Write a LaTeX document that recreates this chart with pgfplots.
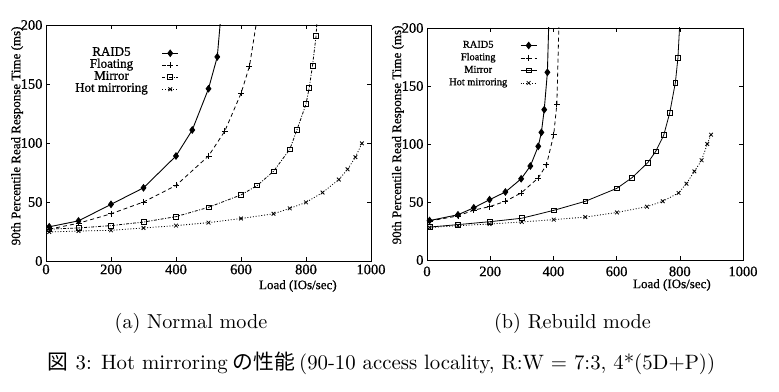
\documentclass[border=0pt]{standalone}
\usepackage{fontspec}
\usepackage{pgfplots}
\pgfplotsset{compat=1.18}
\newfontfamily\tms{Liberation Serif}[FakeBold=0.8]
\newfontfamily\cjk{Noto Sans CJK JP}
\newfontfamily\cmten{lmroman10-regular}[Extension=.otf]
\pgfplotsset{
  legend image code/.code={\draw[mark repeat=2,mark phase=2] plot coordinates {(0pt,0pt) (8pt,0pt) (16pt,0pt)};},
  myax/.style={
    scale only axis,
    xmin=0, xmax=1000, ymin=0, ymax=200,
    xtick={0,200,...,1000}, ytick={0,50,...,200},
    tick align=inside, major tick length=4pt,
    axis line style={line width=0.8pt},
    tick style={line width=0.6pt, black},
    /pgf/number format/assume math mode=true,
    /pgf/number format/1000 sep={},
    tick label style={font=\tms\fontsize{14.5}{15}\selectfont},
    label style={font=\tms\fontsize{13}{14}\selectfont},
    xlabel={Load (IOs/sec)},
    ylabel={90th Percentile Read Response Time (ms)},
    legend plot pos=right,
    legend cell align=center,
  },
  raid/.style={black, line width=0.9pt, mark=diamond*, mark size=3.2pt, mark options={solid, fill=black}},
  flt/.style={black, line width=0.8pt, dash pattern=on 4pt off 3pt, mark=+, mark size=3pt, mark options={solid}},
  mir/.style={black, line width=0.8pt, dash pattern=on 3pt off 1.5pt on 1pt off 1.5pt, mark=square, mark size=2.4pt, mark options={solid}},
  mirs/.style={black, line width=0.8pt, mark=square, mark size=2.4pt, mark options={solid}},
  hot/.style={black, line width=0.8pt, dash pattern=on 1pt off 1.8pt, mark=x, mark size=2.6pt, mark options={solid}},
}
\begin{document}
\begin{tikzpicture}[x=1pt,y=1pt]
\useasboundingbox (0,0) rectangle (779,391);
\begin{axis}[myax, at={(46pt,130pt)}, anchor=south west, width=325pt, height=236pt,
  xlabel style={at={(axis description cs:0.775,0)}, anchor=center, yshift=-25pt},
  ylabel style={at={(axis description cs:-0.089,0.53)}, anchor=center},
  legend style={draw=none, fill=none, at={(0.08,0.915)}, anchor=north west,
    font=\tms\fontsize{13}{13}\selectfont,
    nodes={inner ysep=0pt, inner xsep=0pt, text height=8.5pt, text depth=3.5pt},
    /tikz/every odd column/.append style={column sep=14pt}},
]
\addplot[raid] coordinates {(10,29) (100,34) (200,48) (300,62) (400,89) (450,111) (500,146) (527,173) (545,230)};
\addlegendentry{RAID5}
\addplot[flt] coordinates {(10,27) (100,32) (200,40) (300,50) (400,64) (500,89) (550,110) (600,142) (626,165) (655,215)};
\addlegendentry{Floating}
\addplot[mir] coordinates {(10,27) (100,28) (200,30) (300,33) (400,37.6) (500,45.5) (600,56) (650,64) (700,76) (750,94.6) (772,111) (800,133) (810,147) (820,165.5) (831,190.7) (836,215)};
\addlegendentry{Mirror}
\addplot[hot] coordinates {(10,24.6) (100,25.4) (200,26) (300,28) (400,30) (500,32.5) (600,36) (700,40) (750,44.6) (800,49.7) (851,58) (901,69) (928,77.7) (952,88) (972,99.7)};
\addlegendentry{Hot mirroring}
\end{axis}
\begin{axis}[myax, at={(427pt,131pt)}, anchor=south west, width=316pt, height=232pt,
  xlabel style={at={(axis description cs:0.775,0)}, anchor=center, yshift=-25pt},
  ylabel style={at={(axis description cs:-0.092,0.539)}, anchor=center},
  xticklabel style={yshift=-3pt},
  legend style={draw=none, fill=none, at={(0.06,0.961)}, anchor=north west,
    font=\tms\fontsize{10.4}{10.4}\selectfont,
    nodes={inner ysep=0.5pt, inner xsep=0pt, text height=8pt, text depth=3.5pt},
    /tikz/every odd column/.append style={column sep=13pt}},
]
\addplot[raid] coordinates {(8,34) (98,39) (148,45) (198,52) (248,58.6) (298,70) (327,81) (352,98) (362,110) (371,129.6) (381,161.8) (388,230)};
\addlegendentry{RAID5}
\addplot[flt] coordinates {(8,33.6) (98,38) (148,43) (198,46) (248,50.6) (298,57.8) (352,70.7) (378,82) (401,108) (411,134.5) (420,230)};
\addlegendentry{Floating}
\addplot[mirs] coordinates {(8,28.4) (98,30.5) (198,33) (300,36) (401,42.8) (501,50.6) (601,61.8) (649,71) (699,84) (724,93.7) (749,107.5) (768,126.7) (786,153) (794,174) (805,230)};
\addlegendentry{Mirror}
\addplot[hot] coordinates {(8,28) (98,29.6) (198,31) (300,32.8) (401,34.8) (501,37) (601,41) (696,46) (746,50.6) (796,57.8) (821,65.8) (846,76.4) (869,86) (887,100) (899,108)};
\addlegendentry{Hot mirroring}
\end{axis}
\node[font=\cmten\fontsize{20.2}{22}\selectfont, anchor=base] at (191,62) {(a) Normal mode};
\node[font=\cmten\fontsize{20.2}{22}\selectfont, anchor=base] at (572.5,62) {(b) Rebuild mode};
\node[font=\cmten\fontsize{20.8}{22}\selectfont, anchor=base, inner sep=0pt] at (381.5,22) {{\cjk 図} 3: Hot mirroring\hspace{5pt}{\cjk の性能}\hspace{4pt}(90-10 access locality, R:W = 7:3, 4*(5D+P))};
\end{tikzpicture}
\end{document}
